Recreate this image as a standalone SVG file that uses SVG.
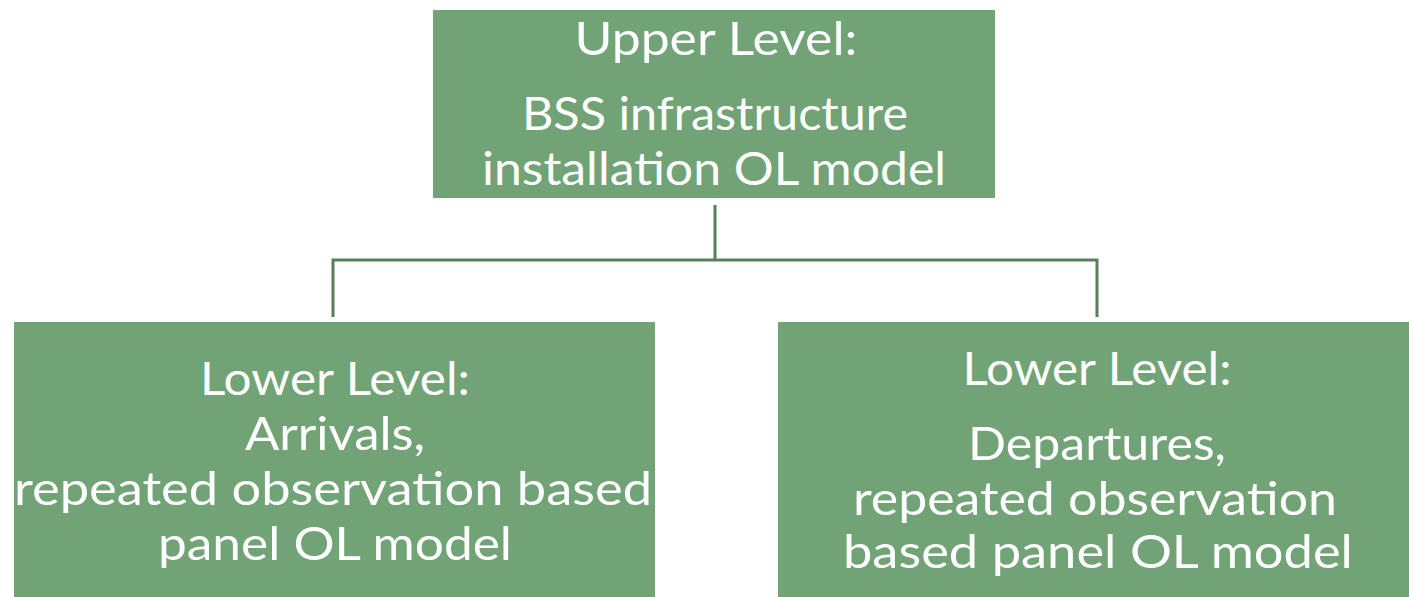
<svg xmlns="http://www.w3.org/2000/svg" width="1409" height="597" viewBox="0 0 1409 597">
<style>
.box{fill:#71a376;}
.t{font-family:Lato,"Liberation Sans",sans-serif;font-size:46px;fill:#ffffff;text-anchor:middle;}
.c{fill:none;stroke:#5b7f5e;stroke-width:3;}
</style>
<rect width="1409" height="597" fill="#ffffff"/>
<g id="connectors">
<path class="c" d="M715 205 V260 M333 317 V260 H1097 V317"/>
</g>
<g id="upper">
<rect class="box" x="433" y="10" width="562" height="188"/>
<text class="t" x="716" y="55" textLength="283" lengthAdjust="spacingAndGlyphs">Upper Level:</text>
<text class="t" x="715" y="130" textLength="386" lengthAdjust="spacingAndGlyphs">BSS infrastructure</text>
<text class="t" x="714" y="185" textLength="464" lengthAdjust="spacingAndGlyphs">installation OL model</text>
</g>
<g id="lower-arrivals">
<rect class="box" x="14" y="322" width="641" height="275"/>
<text class="t" x="335" y="395" textLength="270" lengthAdjust="spacingAndGlyphs">Lower Level:</text>
<text class="t" x="335" y="450" textLength="180" lengthAdjust="spacingAndGlyphs">Arrivals,</text>
<text class="t" x="333" y="505" textLength="638" lengthAdjust="spacingAndGlyphs">repeated observation based</text>
<text class="t" x="335" y="560" textLength="354" lengthAdjust="spacingAndGlyphs">panel OL model</text>
</g>
<g id="lower-departures">
<rect class="box" x="778" y="322" width="631" height="275"/>
<text class="t" x="1097" y="385" textLength="269" lengthAdjust="spacingAndGlyphs">Lower Level:</text>
<text class="t" x="1097" y="460" textLength="258" lengthAdjust="spacingAndGlyphs">Departures,</text>
<text class="t" x="1095" y="515" textLength="484" lengthAdjust="spacingAndGlyphs">repeated observation</text>
<text class="t" x="1098" y="568" textLength="510" lengthAdjust="spacingAndGlyphs">based panel OL model</text>
</g>
</svg>
